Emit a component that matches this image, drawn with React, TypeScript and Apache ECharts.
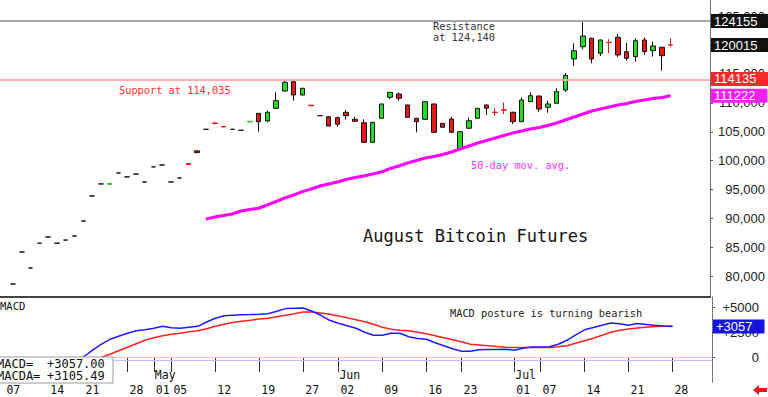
import React, { useEffect, useRef } from 'react';
import * as echarts from 'echarts';

// ---- data ----
const leadDates = ['2025-04-07'];
const tradingDates = [
  '2025-04-08','2025-04-09','2025-04-10','2025-04-11','2025-04-14','2025-04-15','2025-04-16','2025-04-17',
  '2025-04-21','2025-04-22','2025-04-23','2025-04-24','2025-04-25','2025-04-28','2025-04-29','2025-04-30',
  '2025-05-01','2025-05-02','2025-05-05','2025-05-06','2025-05-07','2025-05-08','2025-05-09',
  '2025-05-12','2025-05-13','2025-05-14','2025-05-15','2025-05-16','2025-05-19','2025-05-20','2025-05-21','2025-05-22','2025-05-23',
  '2025-05-27','2025-05-28','2025-05-29','2025-05-30',
  '2025-06-02','2025-06-03','2025-06-04','2025-06-05','2025-06-06','2025-06-09','2025-06-10','2025-06-11','2025-06-12','2025-06-13',
  '2025-06-16','2025-06-17','2025-06-18','2025-06-20','2025-06-23','2025-06-24','2025-06-25','2025-06-26','2025-06-27','2025-06-30',
  '2025-07-01','2025-07-02','2025-07-03','2025-07-07','2025-07-08','2025-07-09','2025-07-10','2025-07-11',
  '2025-07-14','2025-07-15','2025-07-16','2025-07-17','2025-07-18','2025-07-21','2025-07-22','2025-07-23','2025-07-24','2025-07-25',
  '2025-07-28'
];
const futureDates = ['2025-07-29','2025-07-30','2025-07-31','2025-08-01'];

const tickDates = [
  '2025-04-07','2025-04-14','2025-04-21','2025-04-28','2025-05-01','2025-05-05','2025-05-12','2025-05-19','2025-05-27',
  '2025-06-02','2025-06-09','2025-06-16','2025-06-23','2025-07-01','2025-07-07','2025-07-14','2025-07-21','2025-07-28'
];
const monthStarts: Record<string, string> = { '2025-05-01': 'May', '2025-06-02': 'Jun', '2025-07-01': 'Jul' };

const opens = [
  78670,84200,81440,85730,86800,85730,86270,86980,89570,93900,
  95980,95900,97880,97200,97700,96320,98930,99260,96320,97010,
  99500,101700,105430,106520,105930,105430,105260,106700,108200,106870,
  109070,112060,113670,111370,109600,107790,107610,107440,108370,107160,
  106570,103180,107340,110970,111540,109640,107340,107160,109810,106470,
  107210,102000,105610,107340,109640,108400,108800,108370,106750,110210,
  111190,109240,109930,112230,117600,119720,121180,118580,120480,121350,
  118860,118000,120880,119030,119620,120040
];
const closes = [
  78670,84200,81440,85730,86800,85730,86270,86980,89570,93900,
  95980,96050,97880,97200,97700,96320,98930,99260,96320,97010,
  99350,101400,105430,106420,105830,105430,105260,106800,106750,108370,
  110380,113560,111370,112530,109500,107790,106000,106300,107790,106820,
  103180,106640,109810,111830,110800,107510,106750,110210,104910,105780,
  104910,105020,106920,109070,109070,108340,108740,106750,110500,111250,
  108940,109810,111940,114770,119030,121570,117600,120880,120430,118290,
  117720,120760,118860,119840,118170,120015
];
const lows = [
  78670,84200,81440,85730,86800,85730,86270,86980,89570,93900,
  95980,95900,97880,97200,97700,96320,98930,99260,96320,97010,
  99350,101350,105430,106400,105830,105430,105260,106700,105020,106640,
  109000,111950,110380,111300,109500,107790,105950,105880,107160,106750,
  103100,103100,107300,110670,110380,107450,104910,107100,104850,105750,
  104850,101800,105550,107300,107910,107790,108030,106350,106700,110150,
  108480,108300,109900,111900,116380,119270,116850,118110,118580,117900,
  117300,117130,118290,118000,115570,119720
];
const highs = [
  78670,84200,81440,85730,86800,85730,86270,86980,89570,93900,
  95980,96050,97880,97200,97700,96320,98930,99260,96320,97010,
  99500,101750,105430,106700,105930,105430,105260,106800,108250,108650,
  111830,113960,113750,112600,109600,107790,107650,107600,108770,107610,
  107160,106700,109850,111900,111830,109700,107400,110250,109850,106500,
  107610,105050,107440,109100,109700,109170,110100,108500,110970,111830,
  111250,110380,112530,115170,120310,124155,121300,120950,121000,121920,
  120410,121180,121350,120590,119700,121180
];
const ma50 = [
  null,null,null,null,null,null,null,null,null,null,
  null,null,null,null,null,null,null,null,null,null,
  null,null,89910,90260,90520,90780,91300,91560,91770,92340,
  92940,93550,94070,94640,95100,95620,95970,96310,96750,97090,
  97350,97700,98040,98650,99080,99600,100030,100470,100730,101070,
  101500,102020,102540,103060,103490,103930,104360,104790,105140,105480,
  105740,106090,106520,107040,107560,108080,108600,108940,109290,109640,
  109900,110240,110500,110760,110930,111222
];
const macdLine = [
  null,null,null,null,-1700,-1300,-900,-450,0,670,
  1270,1770,2070,2370,2620,2720,2870,3070,2920,2870,
  2970,3070,3500,3870,4120,4170,4220,4240,4270,4320,
  4570,4840,4870,4900,4570,4170,3670,3370,3120,2870,
  2470,2170,2170,2370,2370,2020,1840,1770,1420,1120,
  820,570,570,720,740,750,770,670,870,1000,
  1000,1020,1270,1670,2220,2720,2940,3170,3400,3320,
  3170,3340,3260,3180,3110,3057
];
const signalLine = [
  null,null,null,null,null,null,-1600,-1200,-800,-420,
  -50,270,620,970,1320,1670,1920,2120,2270,2370,
  2520,2620,2820,3070,3270,3440,3570,3670,3790,3870,
  4020,4170,4320,4500,4500,4400,4270,4100,3920,3720,
  3520,3270,2970,2770,2670,2620,2470,2320,2120,1920,
  1720,1520,1270,1200,1120,1040,970,940,940,940,
  940,940,1020,1120,1370,1620,1870,2170,2470,2670,
  2800,2900,2980,3040,3080,3105.49
];
const priceTicks = [80000,85000,90000,95000,100000,105000,110000,115000,120000,125000];
const macdTicks = [0,2500,5000];
const resistanceLevel = 124140;
const supportLevel = 114035;
const contractHigh = 124155;
const lastPrice = 120015;
const supportBox = 114135;

const MONO = '"DejaVu Sans Mono", monospace';
const SANS = '"Liberation Sans", Arial, sans-serif';

function buildOption() {
  const cats = [...leadDates, ...tradingDates, ...futureDates];
  const candleData: any[] = [['-', '-', '-', '-']];
  for (let i = 0; i < tradingDates.length; i++) {
    const o = opens[i], c = closes[i];
    const item: any = { value: [o, c, lows[i], highs[i]] };
    if (o !== c && Math.abs(o - c) <= 150) {
      item.itemStyle = c < o ? { borderColor0: '#e81818' } : { borderColor: '#22cc22' };
    }
    candleData.push(item);
  }
  const pad = (arr: any[]) => [null, ...arr];
  const last = macdLine.length - 1;
  const tickSet = new Set(tickDates);

  const boxLabel = (bg: string) => ({
    show: true,
    position: 'end',
    distance: 1,
    color: '#fff',
    backgroundColor: bg,
    fontFamily: SANS,
    fontSize: 13,
    padding: [1, 12, 0, 3],
    formatter: (p: any) => String(p.value),
  });
  const invisibleLine = { width: 0, color: 'rgba(0,0,0,0)' };

  return {
    animation: false,
    backgroundColor: '#ffffff',
    grid: [
      { left: -5.7, right: 56, top: 0, height: 297 },
      { left: -5.7, right: 56, top: 297, height: 85 },
    ],
    xAxis: [
      {
        gridIndex: 0, type: 'category', data: cats, boundaryGap: true,
        axisLine: { show: true, lineStyle: { color: '#444', width: 2 } },
        axisTick: { show: false }, axisLabel: { show: false }, splitLine: { show: false },
      },
      {
        gridIndex: 1, type: 'category', data: cats, boundaryGap: true, position: 'bottom',
        axisLine: { show: false },
        axisTick: {
          show: true, alignWithLabel: true, length: 15,
          interval: (_i: number, v: string) => tickSet.has(v),
          lineStyle: { color: '#333', width: 1 },
        },
        axisLabel: {
          show: true, interval: (_i: number, v: string) => tickSet.has(v),
          formatter: (v: string) => v.slice(8, 10),
          align: 'left', padding: [0, 0, 0, 2], margin: 2,
          fontFamily: MONO, fontSize: 11.5, color: '#111',
        },
        splitLine: { show: false },
      },
      {
        gridIndex: 1, type: 'category', data: cats, boundaryGap: true, position: 'bottom',
        axisLine: { show: false }, axisTick: { show: false },
        axisLabel: {
          show: true, inside: true, margin: 1,
          interval: (_i: number, v: string) => v in monthStarts,
          formatter: (v: string) => monthStarts[v] || '',
          align: 'left', padding: [0, 0, 0, 1],
          fontFamily: MONO, fontSize: 11.5, color: '#111',
        },
        splitLine: { show: false },
      },
    ],
    yAxis: [
      {
        gridIndex: 0, type: 'value', position: 'right', min: 76420, max: 127800, splitNumber: 10,
        axisLine: { show: true, lineStyle: { color: '#555', type: 'dotted', width: 1 } },
        axisTick: { show: true, length: 3, customValues: priceTicks, lineStyle: { color: '#555' } },
        axisLabel: {
          show: true, customValues: priceTicks, align: 'right', margin: 55,
          fontFamily: SANS, fontSize: 13, color: '#222',
        },
        splitLine: { show: false },
      },
      {
        gridIndex: 1, type: 'value', position: 'right', min: -2500, max: 6000, interval: 2500,
        axisLine: { show: true, lineStyle: { color: '#555', type: 'dotted', width: 1 } },
        axisTick: { show: true, length: 3, customValues: macdTicks, lineStyle: { color: '#555' } },
        axisLabel: {
          show: true, customValues: macdTicks, align: 'right', margin: 47,
          fontFamily: SANS, fontSize: 13, color: '#222',
          formatter: (v: number) => (v > 0 ? '+' + v : String(v)),
        },
        splitLine: { show: false },
      },
    ],
    series: [
      {
        type: 'candlestick', xAxisIndex: 0, yAxisIndex: 0, data: candleData, barWidth: 5, z: 3,
        itemStyle: { color: '#22dd22', color0: '#e81818', borderColor: '#111', borderColor0: '#111', borderWidth: 1 },
        markLine: {
          silent: true, symbol: ['none', 'none'], label: { show: false },
          data: [
            { yAxis: resistanceLevel, lineStyle: { color: '#a8a8a8', width: 2, type: 'solid' } },
            { yAxis: supportLevel, lineStyle: { color: '#ffb0b0', width: 2, type: 'solid' } },
          ],
        },
      },
      {
        type: 'line', xAxisIndex: 0, yAxisIndex: 0, data: pad(ma50), showSymbol: false, symbol: 'none',
        lineStyle: { color: '#ff00ff', width: 3 }, itemStyle: { color: '#ff00ff' }, z: 4,
        markLine: {
          silent: true, symbol: ['none', 'none'],
          data: [
            { yAxis: contractHigh, lineStyle: invisibleLine, label: boxLabel('#111111') },
            { yAxis: lastPrice, lineStyle: invisibleLine, label: boxLabel('#111111') },
            { yAxis: supportBox, lineStyle: invisibleLine, label: boxLabel('#f42a2a') },
            { yAxis: ma50[ma50.length - 1], lineStyle: invisibleLine, label: boxLabel('#f020f0') },
          ],
        },
      },
      {
        type: 'line', xAxisIndex: 1, yAxisIndex: 1, data: pad(macdLine), showSymbol: false, symbol: 'none',
        lineStyle: { color: '#1c1cff', width: 1.5 }, itemStyle: { color: '#1c1cff' }, z: 3,
        markLine: {
          silent: true, symbol: ['none', 'none'],
          data: [
            { yAxis: 0, lineStyle: { color: '#ffbcbc', width: 1, type: 'solid' }, label: { show: false } },
            { yAxis: -350, lineStyle: { color: '#bcbcff', width: 1, type: 'solid' }, label: { show: false } },
            { yAxis: macdLine[last], lineStyle: invisibleLine, label: { ...boxLabel('#1414e0'), formatter: (p: any) => '+' + Math.round(p.value) } },
          ],
        },
      },
      {
        type: 'line', xAxisIndex: 1, yAxisIndex: 1, data: pad(signalLine), showSymbol: false, symbol: 'none',
        lineStyle: { color: '#ff2020', width: 1.5 }, itemStyle: { color: '#ff2020' }, z: 2,
      },
    ],
    graphic: [
      { type: 'text', x: 433, y: 26, z: 50, style: { text: 'Resistance', font: `10.3px ${MONO}`, fill: '#333', verticalAlign: 'middle' } },
      { type: 'text', x: 433, y: 37, z: 50, style: { text: 'at 124,140', font: `10.3px ${MONO}`, fill: '#333', verticalAlign: 'middle' } },
      { type: 'text', x: 119, y: 89.5, z: 50, style: { text: 'Support at 114,035', font: `10.3px ${MONO}`, fill: '#ff3030', verticalAlign: 'middle' } },
      { type: 'text', x: 471, y: 165, z: 50, style: { text: '50-day mov. avg.', font: `10.3px ${MONO}`, fill: '#ff30ff', verticalAlign: 'middle' } },
      { type: 'text', x: 363, y: 236, z: 50, style: { text: 'August Bitcoin Futures', font: `17px ${MONO}`, fill: '#111', verticalAlign: 'middle' } },
      { type: 'text', x: 0, y: 306, z: 50, style: { text: 'MACD', font: `10.5px ${MONO}`, fill: '#111', verticalAlign: 'middle' } },
      { type: 'text', x: 450, y: 313, z: 50, style: { text: 'MACD posture is turning bearish', font: `10.3px ${MONO}`, fill: '#222', verticalAlign: 'middle' } },
      { type: 'rect', z: 60, shape: { x: -2, y: 357, width: 115, height: 26 }, style: { fill: '#fff', stroke: '#999', lineWidth: 1 } },
      { type: 'text', x: -3, y: 363.5, z: 61, style: { text: 'MACD=', font: `12px ${MONO}`, fill: '#111', verticalAlign: 'middle' } },
      { type: 'text', x: 47, y: 363.5, z: 61, style: { text: '+' + macdLine[last].toFixed(2), font: `12px ${MONO}`, fill: '#111', verticalAlign: 'middle' } },
      { type: 'text', x: -3, y: 376, z: 61, style: { text: 'MACDA=', font: `12px ${MONO}`, fill: '#111', verticalAlign: 'middle' } },
      { type: 'text', x: 47, y: 376, z: 61, style: { text: '+' + (signalLine[last] as number).toFixed(2), font: `12px ${MONO}`, fill: '#111', verticalAlign: 'middle' } },
      {
        type: 'polygon', z: 50,
        shape: { points: [[753, 390], [759, 385], [759, 388], [767, 388], [767, 392], [759, 392], [759, 395]] },
        style: { fill: '#e81818' },
      },
    ],
  };
}

export default function App() {
  const ref = useRef<HTMLDivElement>(null);
  useEffect(() => {
    if (!ref.current) return;
    const chart = echarts.init(ref.current, null, { renderer: 'svg' });
    chart.setOption(buildOption() as any);
    return () => chart.dispose();
  }, []);
  return <div ref={ref} style={{ position: 'absolute', left: 0, top: 0, width: 768, height: 397 }} />;
}
